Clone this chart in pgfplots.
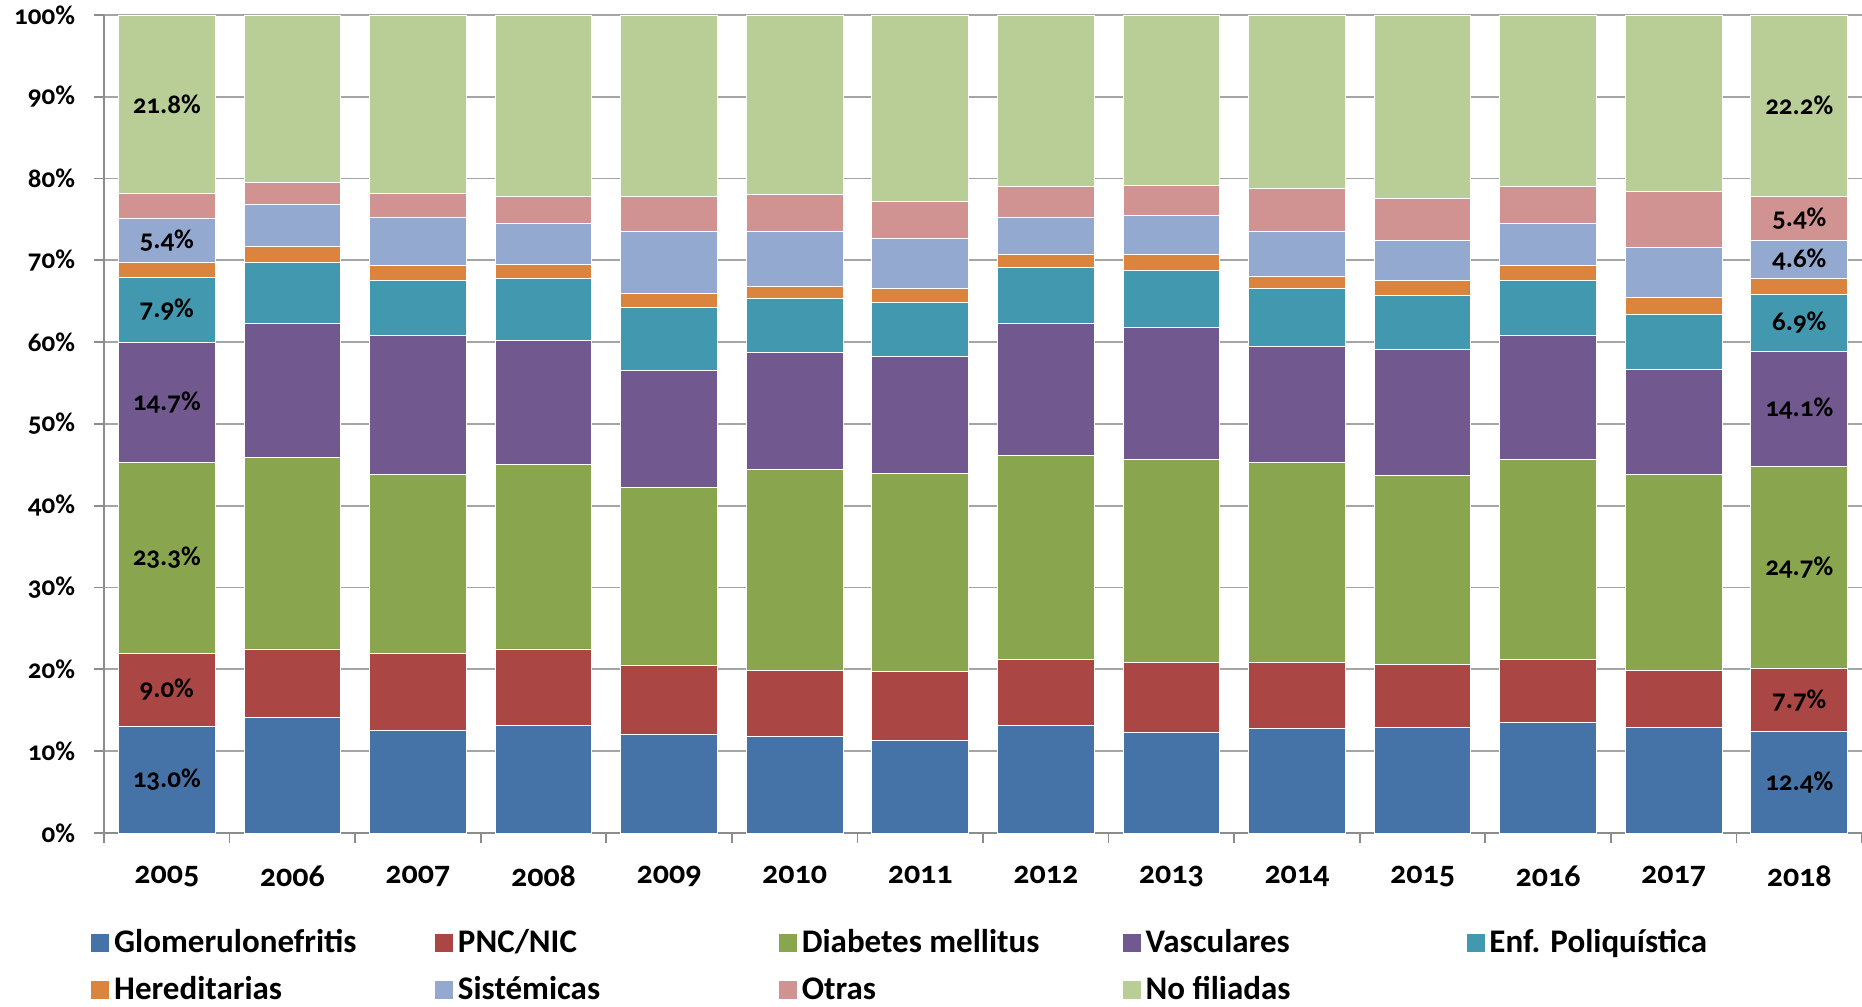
\documentclass[border=0pt]{standalone}
\usepackage{fontspec}
\setmainfont{Carlito}[Numbers=OldStyle]
\usepackage{pgfplots}
\pgfplotsset{compat=1.18}
\definecolor{cA}{HTML}{4572A7}
\definecolor{cB}{HTML}{AA4643}
\definecolor{cC}{HTML}{89A54E}
\definecolor{cD}{HTML}{71588F}
\definecolor{cE}{HTML}{4198AF}
\definecolor{cF}{HTML}{DB843D}
\definecolor{cG}{HTML}{93A9CF}
\definecolor{cH}{HTML}{D19392}
\definecolor{cI}{HTML}{B9CD96}
\definecolor{axgray}{RGB}{140,140,140}
\definecolor{grgray}{RGB}{165,165,165}
\pgfplotsset{sqleg/.style={legend image code/.code={\fill[##1] (0pt,-4.75pt) rectangle (9.5pt,4.75pt);}}}
\begin{document}
\begin{tikzpicture}
\path[use as bounding box] (-52pt,-86.5pt) rectangle (879pt,416.5pt);
\begin{axis}[
  at={(0,0)}, anchor=south west,
  scale only axis, width=879pt, height=409pt,
  ybar stacked, bar width=0.77, sqleg,
  xmin=-0.5, xmax=13.5, ymin=0, ymax=100,
  axis x line*=bottom, axis y line*=left,
  axis line style={draw=axgray, line width=0.9pt},
  tick style={draw=axgray, line width=0.9pt},
  tick align=outside, major tick length=5pt,
  ytick={0,10,...,100},
  yticklabels={0\%,10\%,20\%,30\%,40\%,50\%,60\%,70\%,80\%,90\%,100\%},
  ymajorgrids, grid style={draw=grgray, line width=0.9pt},
  xtick={-0.5,0.5,...,13.5},
  x tick label as interval,
  xticklabels={2005,2006,2007,2008,2009,2010,2011,2012,2013,2014,2015,2016,2017,2018},
  yticklabel style={font=\bfseries\fontsize{13.5}{16}\selectfont, xshift=-6pt},
  xticklabel style={font=\bfseries\fontsize{16}{19}\selectfont, yshift=-8pt},
  every axis plot/.append style={draw=white, line width=0.4pt},
  nodes near coords, point meta=explicit symbolic,
  every node near coord/.append style={font=\bfseries\fontsize{13.5}{15}\selectfont, anchor=center, text=black},
  legend columns=5,
  legend style={at={(rel axis cs:0,0)}, anchor=north west, xshift=-7pt, yshift=-46pt,
    draw=none, fill=none, inner sep=0pt, row sep=6.5pt,
    font=\bfseries\fontsize{16.5}{19}\selectfont},
]
\addplot[fill=cA] coordinates {(0,13.0)[13.0\%] (1,14.1)[] (2,12.6)[] (3,13.1)[] (4,12.0)[] (5,11.8)[] (6,11.3)[] (7,13.1)[] (8,12.3)[] (9,12.8)[] (10,12.9)[] (11,13.5)[] (12,12.9)[] (13,12.4)[12.4\%]};
\addplot[fill=cB] coordinates {(0,9.0)[9.0\%] (1,8.4)[] (2,9.3)[] (3,9.4)[] (4,8.5)[] (5,8.1)[] (6,8.4)[] (7,8.1)[] (8,8.5)[] (9,8.0)[] (10,7.7)[] (11,7.7)[] (12,7.0)[] (13,7.7)[7.7\%]};
\addplot[fill=cC] coordinates {(0,23.3)[23.3\%] (1,23.4)[] (2,21.9)[] (3,22.5)[] (4,21.7)[] (5,24.5)[] (6,24.3)[] (7,25.0)[] (8,24.9)[] (9,24.5)[] (10,23.1)[] (11,24.5)[] (12,23.9)[] (13,24.7)[24.7\%]};
\addplot[fill=cD] coordinates {(0,14.7)[14.7\%] (1,16.4)[] (2,17.0)[] (3,15.2)[] (4,14.3)[] (5,14.4)[] (6,14.3)[] (7,16.1)[] (8,16.1)[] (9,14.2)[] (10,15.4)[] (11,15.1)[] (12,12.9)[] (13,14.1)[14.1\%]};
\addplot[fill=cE] coordinates {(0,7.9)[7.9\%] (1,7.5)[] (2,6.8)[] (3,7.6)[] (4,7.8)[] (5,6.5)[] (6,6.6)[] (7,6.8)[] (8,7.0)[] (9,7.1)[] (10,6.6)[] (11,6.7)[] (12,6.7)[] (13,6.9)[6.9\%]};
\addplot[fill=cF] coordinates {(0,1.8)[] (1,1.9)[] (2,1.8)[] (3,1.7)[] (4,1.7)[] (5,1.5)[] (6,1.7)[] (7,1.6)[] (8,1.9)[] (9,1.5)[] (10,1.8)[] (11,1.9)[] (12,2.1)[] (13,2.0)[]};
\addplot[fill=cG] coordinates {(0,5.4)[5.4\%] (1,5.1)[] (2,5.8)[] (3,5.0)[] (4,7.6)[] (5,6.8)[] (6,6.1)[] (7,4.6)[] (8,4.8)[] (9,5.5)[] (10,4.9)[] (11,5.1)[] (12,6.1)[] (13,4.6)[4.6\%]};
\addplot[fill=cH] coordinates {(0,3.1)[] (1,2.7)[] (2,3.0)[] (3,3.3)[] (4,4.2)[] (5,4.5)[] (6,4.5)[] (7,3.7)[] (8,3.7)[] (9,5.2)[] (10,5.2)[] (11,4.5)[] (12,6.8)[] (13,5.4)[5.4\%]};
\addplot[fill=cI] coordinates {(0,21.8)[21.8\%] (1,20.5)[] (2,21.8)[] (3,22.2)[] (4,22.2)[] (5,21.9)[] (6,22.8)[] (7,21.0)[] (8,20.8)[] (9,21.2)[] (10,22.4)[] (11,21.0)[] (12,21.6)[] (13,22.2)[22.2\%]};
\legend{\makebox[158pt][l]{Glomerulonefritis},\makebox[158pt][l]{PNC/NIC},\makebox[158pt][l]{Diabetes mellitus},\makebox[158pt][l]{Vasculares},\makebox[158pt][l]{Enf. Poliquística},\makebox[158pt][l]{Hereditarias},\makebox[158pt][l]{Sistémicas},\makebox[158pt][l]{Otras},\makebox[158pt][l]{No filiadas}}
\end{axis}
\end{tikzpicture}
\end{document}
